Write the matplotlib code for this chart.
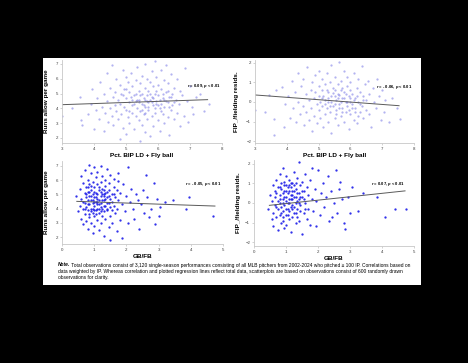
"""Four-panel pitcher scatterplots (runs / FIP-fielding resids vs batted-ball mix)."""

import matplotlib as mpl

mpl.use("Agg")

import matplotlib.pyplot as plt

plt.rcParams["font.family"] = ["Liberation Sans Narrow", "Liberation Sans", "DejaVu Sans"]
plt.rcParams["mathtext.fontset"] = "custom"
plt.rcParams["mathtext.it"] = "Liberation Sans:italic:bold"
plt.rcParams["mathtext.rm"] = "Liberation Sans:bold"

# --- data ------------------------------------------------------------------
# top-left: Pct. BIP LD + Fly ball vs runs allowed per game
tl_x = [3.0, 3.3, 3.55, 3.6, 3.62, 3.8, 3.9, 3.95, 4.0, 4.05, 4.1, 4.15, 4.2, 4.25, 4.3, 4.3, 4.35, 4.4,
        4.4, 4.45, 4.5, 4.5, 4.55, 4.55, 4.6, 4.6, 4.65, 4.65, 4.7, 4.7, 4.75, 4.75, 4.8, 4.8, 4.8, 4.85,
        4.85, 4.9, 4.9, 4.9, 4.95, 4.95, 5.0, 5.0, 5.0, 5.0, 5.05, 5.05, 5.1, 5.1, 5.1, 5.15, 5.15, 5.2,
        5.2, 5.2, 5.25, 5.25, 5.3, 5.3, 5.3, 5.35, 5.35, 5.4, 5.4, 5.4, 5.45, 5.45, 5.45, 5.5, 5.5, 5.5,
        5.5, 5.55, 5.55, 5.6, 5.6, 5.6, 5.6, 5.65, 5.65, 5.65, 5.7, 5.7, 5.7, 5.75, 5.75, 5.75, 5.8, 5.8,
        5.8, 5.85, 5.85, 5.85, 5.9, 5.9, 5.9, 5.95, 5.95, 6.0, 6.0, 6.0, 6.05, 6.05, 6.1, 6.1, 6.1, 6.15,
        6.15, 6.2, 6.2, 6.2, 6.25, 6.25, 6.3, 6.3, 6.3, 6.35, 6.35, 6.4, 6.4, 6.45, 6.45, 6.5, 6.5, 6.55,
        6.6, 6.6, 6.65, 6.7, 6.7, 6.75, 6.8, 6.85, 6.9, 6.95, 7.0, 7.05, 7.1, 7.2, 7.3, 7.45, 7.6,
        5.25, 5.35, 5.45, 5.55, 5.65, 5.75, 5.85, 5.95, 6.05, 6.15, 6.25, 6.35, 5.3, 5.5, 5.7, 5.9, 6.1,
        5.2, 5.4, 5.6, 5.8, 6.0, 6.2, 6.4, 5.1, 6.5, 5.0, 6.3, 5.6, 5.95]
tl_y = [3.5, 4.0, 4.8, 3.2, 2.9, 3.6, 4.3, 5.3, 2.6, 3.9, 4.7, 3.3, 5.8, 4.1, 2.5, 5.0, 3.7, 4.5,
        6.4, 3.1, 5.4, 4.0, 6.9, 3.5, 4.8, 2.9, 5.1, 4.2, 3.8, 6.0, 4.6, 3.3, 5.6, 1.9, 4.3, 5.0,
        3.6, 4.9, 6.6, 2.7, 4.1, 5.3, 3.9, 4.7, 6.1, 2.3, 5.8, 3.4, 4.4, 5.1, 3.0, 4.8, 6.4, 3.7,
        5.5, 4.2, 2.6, 4.9, 3.5, 5.9, 4.5, 6.8, 4.0, 5.2, 3.2, 4.6, 1.8, 5.7, 3.8, 4.3, 6.2, 2.9,
        5.0, 4.7, 3.6, 5.4, 4.1, 7.0, 2.4, 4.9, 3.3, 6.0, 4.4, 5.2, 3.9, 2.1, 4.6, 5.8, 3.5, 6.5,
        4.8, 4.2, 5.5, 2.8, 5.0, 3.7, 7.2, 4.5, 6.1, 3.2, 4.9, 5.6, 4.0, 2.5, 5.3, 4.3, 6.6, 3.6,
        4.7, 5.9, 4.1, 3.0, 5.1, 6.9, 4.4, 3.4, 5.7, 4.8, 2.2, 3.9, 6.3, 5.0, 4.2, 3.3, 5.4, 4.6,
        6.0, 3.7, 4.3, 5.2, 2.8, 4.9, 3.5, 6.7, 4.5, 3.1, 5.5, 4.1, 3.6, 4.8, 5.0, 3.8, 4.3,
        4.3, 4.6, 4.9, 4.2, 4.5, 5.0, 4.7, 4.3, 4.6, 5.0, 4.5, 4.1, 5.0, 3.9, 4.1, 4.0, 3.8,
        4.6, 4.4, 4.6, 4.4, 4.2, 4.6, 4.8, 3.8, 4.4, 5.3, 5.2, 3.7, 5.2]

# top-right: Pct. BIP LD + Fly ball vs FIP/fielding residuals
tr_x = [3.0, 3.3, 3.45, 3.6, 3.6, 3.65, 3.85, 3.9, 3.95, 4.05, 4.1, 4.15, 4.2, 4.25, 4.3, 4.35, 4.35,
        4.4, 4.45, 4.5, 4.5, 4.55, 4.6, 4.6, 4.65, 4.7, 4.7, 4.75, 4.75, 4.8, 4.8, 4.85, 4.85, 4.9, 4.9,
        4.95, 4.95, 5.0, 5.0, 5.0, 5.05, 5.05, 5.1, 5.1, 5.1, 5.15, 5.15, 5.2, 5.2, 5.2, 5.25, 5.25, 5.3,
        5.3, 5.3, 5.35, 5.35, 5.4, 5.4, 5.4, 5.45, 5.45, 5.5, 5.5, 5.5, 5.55, 5.55, 5.6, 5.6, 5.6, 5.65,
        5.65, 5.7, 5.7, 5.7, 5.75, 5.75, 5.8, 5.8, 5.8, 5.85, 5.85, 5.9, 5.9, 5.9, 5.95, 5.95, 6.0, 6.0,
        6.0, 6.05, 6.05, 6.1, 6.1, 6.15, 6.15, 6.2, 6.2, 6.25, 6.25, 6.3, 6.3, 6.35, 6.35, 6.4, 6.4,
        6.45, 6.5, 6.5, 6.55, 6.6, 6.6, 6.65, 6.7, 6.75, 6.8, 6.85, 6.9, 6.95, 7.0, 7.05, 7.1, 7.2, 7.3,
        7.45, 7.55,
        5.3, 5.4, 5.5, 5.6, 5.7, 5.8, 5.9, 6.0, 6.1, 6.2, 5.2, 5.45, 5.65, 5.85, 6.05, 5.35, 5.55, 5.75,
        5.95, 6.15, 5.1, 6.3, 5.0, 6.4, 5.25, 5.75, 6.25, 5.5, 6.0, 5.65]
tr_y = [-0.4, -0.5, 0.35, -1.7, -0.85, 0.6, 0.75, -1.3, -0.1, 0.3, -0.8, 1.1, -0.3, 0.5, -1.0, 1.5, 0.0,
        -0.6, 0.8, -0.2, 1.2, -1.2, 0.4, -0.5, 1.8, 0.1, -0.9, 0.6, -0.3, 1.0, -1.5, 0.2, -0.7, 1.4, 0.5,
        -0.1, -1.1, 0.8, -0.4, 1.6, 0.0, -0.8, 0.6, 1.2, -0.2, -1.3, 0.3, 0.9, -0.6, 0.1, 1.5, -0.3, 0.5,
        -1.0, 0.2, 1.0, -0.5, 0.0, 1.9, -1.6, 0.7, -0.2, 0.3, 1.3, -0.8, 0.1, -0.4, 0.9, -1.2, 0.4, 2.05,
        -0.1, 0.6, -0.7, 1.1, 0.2, -0.3, 1.6, -1.0, 0.5, 0.0, -0.5, 0.8, 1.3, -0.2, -1.4, 0.3, 0.6, -0.6,
        1.0, -0.1, 0.4, 1.5, -0.9, 0.2, -0.3, 0.7, -1.1, 1.2, 0.0, -0.5, 0.5, 1.85, -0.2, 0.3, -0.8,
        0.9, -0.4, 0.1, 1.1, -0.6, 0.4, -1.3, 0.7, 0.0, -0.3, 1.2, 0.3, -0.9, 0.6, -0.5, 0.1, -1.0, 0.2,
        -0.3, -0.85,
        0.0, 0.3, -0.1, 0.2, 0.0, 0.2, 0.0, 0.2, 0.1, 0.3, -0.1, 0.45, 0.35, 0.4, -0.3, -0.2, -0.6, -0.5,
        -0.4, -0.5, 0.2, -0.1, 0.3, 0.1, 0.6, 0.7, -0.7, 0.6, 0.0, -0.3]

# bottom-left: GB/FB vs runs allowed per game
bl_x = [0.45, 0.5, 0.55, 0.55, 0.6, 0.6, 0.6, 0.65, 0.65, 0.65, 0.7, 0.7, 0.7, 0.7, 0.75, 0.75, 0.75,
        0.75, 0.8, 0.8, 0.8, 0.8, 0.8, 0.85, 0.85, 0.85, 0.85, 0.85, 0.9, 0.9, 0.9, 0.9, 0.9, 0.95, 0.95,
        0.95, 0.95, 0.95, 1.0, 1.0, 1.0, 1.0, 1.0, 1.0, 1.05, 1.05, 1.05, 1.05, 1.1, 1.1, 1.1, 1.1, 1.1,
        1.15, 1.15, 1.15, 1.15, 1.2, 1.2, 1.2, 1.2, 1.2, 1.25, 1.25, 1.25, 1.25, 1.3, 1.3, 1.3, 1.3, 1.35,
        1.35, 1.35, 1.35, 1.4, 1.4, 1.4, 1.4, 1.45, 1.45, 1.45, 1.5, 1.5, 1.5, 1.5, 1.55, 1.55, 1.55, 1.6,
        1.6, 1.6, 1.65, 1.65, 1.7, 1.7, 1.7, 1.75, 1.75, 1.8, 1.8, 1.85, 1.85, 1.9, 1.95, 2.0, 2.05, 2.05,
        2.1, 2.15, 2.2, 2.25, 2.3, 2.35, 2.4, 2.45, 2.5, 2.55, 2.6, 2.65, 2.7, 2.75, 2.85, 2.9, 2.95, 3.0,
        3.05, 3.2, 3.45, 3.85, 3.95, 4.7, 1.75,
        0.8, 0.9, 1.0, 1.1, 1.2, 1.3, 1.4, 0.85, 0.95, 1.05, 1.15, 1.25, 1.35, 1.45, 0.75, 1.0, 1.1, 1.2,
        1.3, 0.9, 1.05, 1.15, 1.25, 1.4, 0.8, 0.95, 1.1, 1.2, 1.3, 1.5, 0.7, 0.65, 1.55, 1.6, 1.0, 1.35,
        0.9, 1.15, 1.45, 0.85]
bl_y = [4.9, 3.8, 5.4, 4.2, 6.3, 3.3, 4.7, 5.8, 4.0, 2.9, 5.1, 4.4, 6.7, 3.6, 4.8, 5.5, 3.1,
        4.1, 6.0, 4.6, 3.9, 5.2, 2.6, 4.3, 7.1, 5.7, 3.4, 4.9, 6.5, 4.0, 5.3, 3.0, 4.6, 5.9, 3.7,
        4.4, 2.3, 5.0, 6.9, 4.2, 5.5, 3.5, 4.8, 2.8, 6.2, 4.5, 3.9, 5.1, 4.0, 5.7, 3.2, 4.7, 6.6,
        5.3, 4.3, 2.5, 3.7, 7.0, 4.9, 4.1, 5.9, 3.0, 4.6, 5.4, 3.5, 6.3, 4.2, 5.0, 2.1, 3.8, 6.0,
        4.7, 3.3, 5.6, 4.4, 6.8, 3.9, 5.2, 2.7, 4.9, 5.8, 4.1, 3.5, 6.4, 1.8, 5.0, 4.5, 3.0, 5.5,
        4.2, 6.1, 3.7, 4.8, 2.4, 5.3, 4.0, 6.5, 4.6, 3.2, 5.1, 4.3, 1.95, 5.7, 3.8, 4.9, 6.9, 3.0,
        4.5, 5.4, 4.0, 3.3, 5.0, 4.6, 2.6, 4.3, 5.3, 3.7, 6.4, 4.8, 3.4, 4.0, 5.8, 2.9, 4.7, 3.5,
        4.1, 4.5, 4.6, 4.0, 4.8, 3.5, 5.95,
        4.3, 4.9, 4.5, 5.0, 4.4, 4.6, 4.8, 5.2, 4.0, 4.8, 4.6, 4.0, 4.2, 4.4, 5.0, 5.2, 4.3, 5.2,
        5.3, 3.8, 3.6, 5.5, 5.0, 4.0, 5.5, 4.6, 4.5, 3.8, 4.9, 4.7, 4.0, 4.5, 3.9, 5.0, 3.9, 5.1,
        5.6, 4.0, 5.3, 3.6]

# bottom-right: GB/FB vs FIP/fielding residuals
br_x = [0.45, 0.5, 0.55, 0.55, 0.6, 0.6, 0.6, 0.65, 0.65, 0.7, 0.7, 0.7, 0.75, 0.75, 0.75, 0.8, 0.8,
        0.8, 0.8, 0.85, 0.85, 0.85, 0.85, 0.9, 0.9, 0.9, 0.9, 0.95, 0.95, 0.95, 0.95, 1.0, 1.0, 1.0, 1.0,
        1.0, 1.05, 1.05, 1.05, 1.1, 1.1, 1.1, 1.1, 1.15, 1.15, 1.15, 1.2, 1.2, 1.2, 1.2, 1.25, 1.25, 1.25,
        1.3, 1.3, 1.3, 1.35, 1.35, 1.35, 1.4, 1.4, 1.4, 1.45, 1.45, 1.5, 1.5, 1.5, 1.55, 1.55, 1.6, 1.6,
        1.65, 1.65, 1.7, 1.7, 1.75, 1.75, 1.8, 1.8, 1.85, 1.9, 1.95, 2.0, 2.05, 2.1, 2.15, 2.2, 2.25, 2.3,
        2.35, 2.4, 2.5, 2.55, 2.6, 2.7, 2.75, 2.8, 2.85, 2.95, 3.0, 3.05, 3.25, 3.4, 3.85, 4.1, 4.4, 4.75,
        2.45, 2.65, 1.95,
        0.8, 0.9, 1.0, 1.1, 1.2, 1.3, 1.4, 0.85, 0.95, 1.05, 1.15, 1.25, 1.35, 1.45, 0.75, 1.0, 1.1, 1.2,
        1.3, 0.9, 1.05, 1.15, 1.25, 1.4, 0.7, 0.95, 1.1, 1.2, 1.3, 1.5, 0.65, 1.55, 1.6, 1.0, 1.35, 0.9,
        1.15, 1.45, 0.8, 1.25]
br_y = [-0.3, 0.4, -0.8, 0.1, 0.9, -0.5, -1.2, 0.3, -0.1, 1.2, -0.7, 0.5, -0.3, 0.8, -1.4, 0.0, 1.5,
        -0.6, 0.4, -1.0, 0.7, -0.2, 1.0, 0.2, -0.9, 1.8, -0.4, 0.6, -0.1, -1.3, 1.1, 0.3, -0.6, 0.9, -1.1,
        1.4, -0.3, 0.5, 0.0, 1.2, -0.8, 0.2, -0.4, 0.8, -1.5, 0.4, -0.1, 1.0, -0.7, 0.6, 1.6, -0.2, 0.3,
        -1.0, 0.7, -0.5, 1.3, 0.1, -0.3, 2.1, 0.5, -0.9, 0.9, -0.1, -1.6, 0.3, 1.1, -0.5, 0.6, 1.5, 0.0,
        -0.8, 0.8, 0.4, -0.3, 1.2, -1.1, 0.2, 1.8, -0.4, 0.7, 0.1, 1.7, -0.6, 0.5, 1.0, -0.2, 0.3, 1.4,
        -0.9, 0.6, 0.0, 1.7, -0.5, 1.1, 0.2, -1.0, -1.35, 0.3, -0.5, 0.8, -0.4, 0.5, 0.3, -0.7, -0.3, -0.3,
        -0.7, 0.7, -1.2,
        0.2, 0.5, 0.1, 0.6, 0.2, 0.3, 0.0, -0.5, 0.3, 0.8, -0.2, 0.6, 0.5, 0.3, 0.1, -0.3, 0.0, 0.4,
        0.0, 0.0, -0.6, 1.0, -0.5, 0.2, -0.2, 0.9, 0.9, -0.3, 1.0, 0.6, 0.6, 0.2, -0.3, 0.6, -0.7, -0.7,
        0.2, -0.4, 0.8, 0.9]

# regression lines (end points)
tl_fit_x, tl_fit_y = [3.0, 7.55], [4.25, 4.59]
tr_fit_x, tr_fit_y = [3.0, 7.53], [0.36, -0.19]
bl_fit_x, bl_fit_y = [0.46, 4.75], [4.51, 4.18]
br_fit_x, br_fit_y = [0.48, 4.72], [-0.12, 0.62]

stat_labels = [r"$r$ = 0.09, $p$ < 0.01", r"$r$ = - 0.06, $p$ < 0.01",
               r"$r$ = - 0.05, $p$ < 0.01", r"$r$ = 0.07, $p$ < 0.01"]
pct_ticks = [3, 4, 5, 6, 7, 8]
gbfb_ticks = [0, 1, 2, 3, 4, 5]
runs_ticks = [2, 3, 4, 5, 6, 7]
resid_ticks = [-2, -1, 0, 1, 2]

note_head = "Note."
note_body = (" Total observations consist of 3,120 single-season performances consisting of all MLB "
             "pitchers from 2002-2024 who pitched \u2265 100 IP. Correlations based on")
note_lines = ("data weighted by IP. Whereas correlation and plotted regression lines reflect total data, "
              "scatterplots are based on observations consist of 600 randomly drawn\n"
              "observations for clarity.")

W, H = 468, 363
fig = plt.figure(figsize=(W / 100, H / 100), dpi=100, facecolor="black")

# white page behind the figure block (its own axes, lowest in the stack)
page = fig.add_axes([43 / W, 1 - 285 / H, (421 - 43) / W, (285 - 58) / H], zorder=-5)
page.set_facecolor("white")
page.set_xticks([])
page.set_yticks([])
for sp in page.spines.values():
    sp.set_visible(False)


def px_axes(left, right, top, bottom):
    return fig.add_axes([left / W, 1 - bottom / H, (right - left) / W, (bottom - top) / H])


def style(ax, xticks, yticks, xlim, ylim, xlabel, ylabel, ylab_x):
    ax.set_facecolor("none")
    ax.set_xlim(*xlim)
    ax.set_ylim(*ylim)
    ax.set_xticks(xticks)
    ax.set_yticks(yticks)
    for side in ("top", "right"):
        ax.spines[side].set_visible(False)
    for side in ("left", "bottom"):
        ax.spines[side].set_color("#c8c8c8")
        ax.spines[side].set_linewidth(0.6)
    ax.tick_params(length=1.5, width=0.4, color="#b0b0b0", labelsize=3.2,
                   labelcolor="#404040", pad=1.2)
    ax.set_xlabel(xlabel, fontsize=4.6, fontweight="bold", labelpad=1.5)
    ax.set_ylabel(ylabel, fontsize=4.6, fontweight="bold")
    ax.yaxis.set_label_coords(ylab_x, 0.5)


top_pts = dict(s=2.6, color="#5757e0", alpha=0.45, linewidths=0)
bot_pts = dict(s=2.8, color="#1c1ce8", alpha=0.9, linewidths=0)
fit_style = dict(color="#5a5a5a", lw=0.7)
stat_style = dict(fontsize=3.0, fontweight="bold", ha="right", va="center")

ax = px_axes(62, 222, 60, 143)
ax.scatter(tl_x, tl_y, **top_pts)
ax.plot(tl_fit_x, tl_fit_y, **fit_style)
ax.text(7.95, 5.5, stat_labels[0], **stat_style)
style(ax, pct_ticks, runs_ticks, (3, 8), (1.66, 7.27), "Pct. BIP LD + Fly ball",
      "Runs allow per game", -0.082)

ax = px_axes(255, 414, 60, 143)
ax.scatter(tr_x, tr_y, **top_pts)
ax.plot(tr_fit_x, tr_fit_y, **fit_style)
ax.text(7.95, 0.75, stat_labels[1], **stat_style)
style(ax, pct_ticks, resid_ticks, (3, 8), (-2.1, 2.15), "Pct. BIP LD + Fly ball",
      "FIP_/fielding resids.", -0.10)

ax = px_axes(62, 223, 161, 244)
ax.scatter(bl_x, bl_y, **bot_pts)
ax.plot(bl_fit_x, bl_fit_y, **fit_style)
ax.text(4.95, 5.75, stat_labels[2], **stat_style)
style(ax, gbfb_ticks, runs_ticks, (0, 5), (1.51, 7.35), "GB/FB",
      "Runs allow per game", -0.08)

ax = px_axes(254, 414, 160, 246)
ax.scatter(br_x, br_y, **bot_pts)
ax.plot(br_fit_x, br_fit_y, **fit_style)
ax.text(4.7, 0.95, stat_labels[3], **stat_style)
style(ax, gbfb_ticks, resid_ticks, (0, 5), (-2.2, 2.2), "GB/FB",
      "FIP_/fielding resids.", -0.08)

# note under the panels
note_size = 3.5
head = fig.text(58 / W, 1 - 265 / H, note_head, fontsize=note_size, fontweight="bold",
                fontstyle="italic", va="center")
fig.add_artist(plt.Annotation(note_body, xy=(1, 0.5), xycoords=head, va="center",
                              fontsize=note_size))
fig.text(58 / W, 1 - 268.5 / H, note_lines, fontsize=note_size, va="top", linespacing=1.5)

fig.savefig("out.png", dpi=100, facecolor="black")
